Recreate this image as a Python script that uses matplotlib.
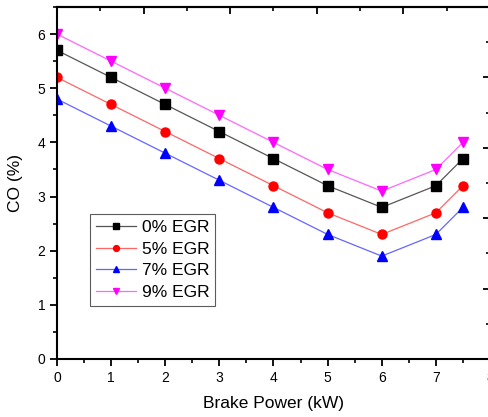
import matplotlib
matplotlib.use("Agg")
import matplotlib.pyplot as plt
from matplotlib.ticker import MultipleLocator, NullFormatter

plt.rcParams["font.family"] = ["Liberation Sans", "DejaVu Sans"]

power = [0, 1, 2, 3, 4, 5, 6, 7, 7.5]
co_0 = [5.7, 5.2, 4.7, 4.2, 3.7, 3.2, 2.8, 3.2, 3.7]
co_5 = [5.2, 4.7, 4.2, 3.7, 3.2, 2.7, 2.3, 2.7, 3.2]
co_7 = [4.8, 4.3, 3.8, 3.3, 2.8, 2.3, 1.9, 2.3, 2.8]
co_9 = [6.0, 5.5, 5.0, 4.5, 4.0, 3.5, 3.1, 3.5, 4.0]
labels = ["0% EGR", "5% EGR", "7% EGR", "9% EGR"]

W, H = 489, 417
fig = plt.figure(figsize=(W / 100, H / 100), dpi=100)
ax = fig.add_axes([57 / W, (H - 359) / H, 433 / W, 352 / H])

series = [
    (co_0, "black", "s", "#555555"),
    (co_5, "red", "o", "#ff6666"),
    (co_7, "blue", "^", "#6666ff"),
    (co_9, "magenta", "v", "#ff66ff"),
]
for (vals, mc, mk, lc), lab in zip(series, labels):
    ax.plot(power, vals, color=lc, lw=0.9, marker=mk, markersize=6.5,
            markerfacecolor=mc, markeredgecolor=mc, label=lab)

ax.set_xlim(0, 8)
ax.set_ylim(0, 6.5)
ax.xaxis.set_major_locator(MultipleLocator(1))
ax.xaxis.set_minor_locator(MultipleLocator(0.5))
ax.yaxis.set_major_locator(MultipleLocator(1))
ax.yaxis.set_minor_locator(MultipleLocator(0.5))
ax.tick_params(which="major", direction="out", length=5, width=1.3, labelsize=10)
ax.tick_params(which="minor", direction="out", length=3, width=1.2)
for s in ax.spines.values():
    s.set_linewidth(1.5)

# odd top/right ticks seen in the reference
top = ax.secondary_xaxis("top")
top.set_xticks([1.6, 3.2, 4.8, 6.4])
top.set_xticks([0.8, 2.4, 4.0, 5.6, 7.2], minor=True)
top.xaxis.set_major_formatter(NullFormatter())
top.tick_params(which="major", direction="in", length=5, width=1.3)
top.tick_params(which="minor", direction="in", length=3, width=1.2)
top.spines["top"].set_linewidth(1.5)

right = ax.secondary_yaxis("right")
right.set_yticks([1.3, 2.6, 3.9, 5.2])
right.set_yticks([0.65, 1.95, 3.25, 4.55, 5.85], minor=True)
right.yaxis.set_major_formatter(NullFormatter())
right.tick_params(which="major", direction="in", length=5, width=1.3)
right.tick_params(which="minor", direction="in", length=3, width=1.2)

ax.set_xlabel("Brake Power (kW)", fontsize=12.5, labelpad=8)
ax.set_ylabel("CO (%)", fontsize=12.5, labelpad=10)

leg = ax.legend(loc="lower left", bbox_to_anchor=(0.077, 0.15), fontsize=12.5,
                frameon=True, fancybox=False, edgecolor="#333333",
                handlelength=2.3, handletextpad=0.3, labelspacing=0.38,
                borderpad=0.35, borderaxespad=0, markerscale=0.65)
leg.get_frame().set_linewidth(0.8)

fig.savefig("out.png", dpi=100)
